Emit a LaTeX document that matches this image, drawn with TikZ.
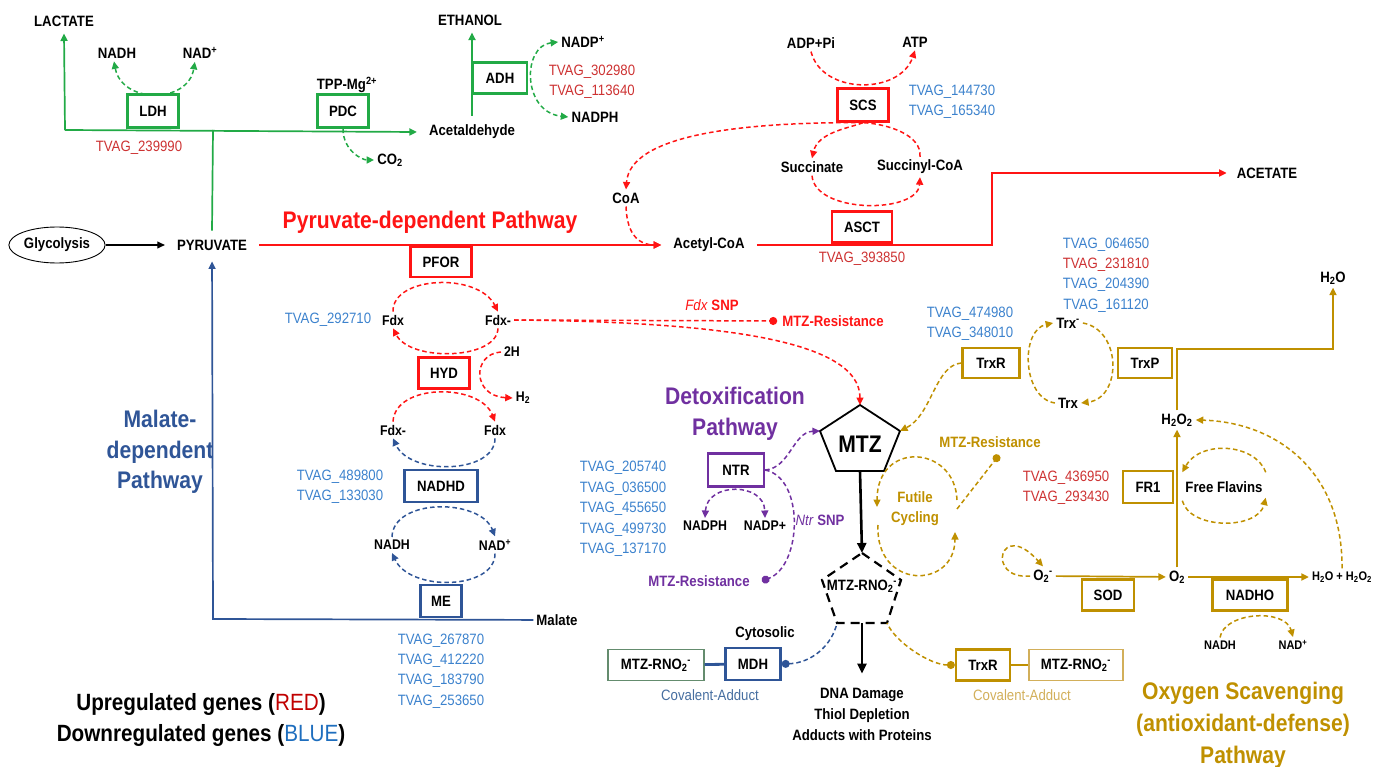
\documentclass[tikz,border=0pt]{standalone}
\usepackage{fontspec}
\setmainfont{Liberation Sans}[FakeStretch=0.88]
\usetikzlibrary{arrows.meta,shapes.geometric}
\definecolor{cgreen}{RGB}{34,170,70}
\definecolor{cred}{RGB}{255,20,20}
\definecolor{tred}{RGB}{205,50,50}
\definecolor{tblue}{RGB}{60,130,205}
\definecolor{cblue}{RGB}{47,85,151}
\definecolor{cpurple}{RGB}{112,48,160}
\definecolor{cgold}{RGB}{191,144,0}
\definecolor{lgold}{RGB}{210,175,90}
\definecolor{covblue}{RGB}{70,110,160}
\definecolor{ggrey}{RGB}{100,140,110}
\definecolor{legred}{RGB}{192,0,0}
\definecolor{legblue}{RGB}{30,110,190}
\tikzset{
  lab/.style={font=\bfseries\fontsize{15}{18}\selectfont, inner sep=3pt},
  labm/.style={font=\bfseries\fontsize{14}{17}\selectfont, inner sep=3pt},
  labs/.style={font=\bfseries\fontsize{12.5}{15}\selectfont, inner sep=3pt},
  tv/.style={font=\fontsize{15}{18}\selectfont, inner sep=2pt},
  tvs/.style={font=\fontsize{15}{20.4}\selectfont, inner sep=2pt, align=center},
  enz/.style={draw, line width=2.3pt, font=\bfseries\fontsize{15}{18}\selectfont, inner sep=2pt, minimum height=31pt},
  genz/.style={enz, draw=cgreen},
  renz/.style={enz, draw=cred},
  benz/.style={enz, draw=cblue},
  penz/.style={enz, draw=cpurple},
  oenz/.style={enz, draw=cgold},
  dsh/.style={line width=1.5pt, dash pattern=on 4.5pt off 3pt},
  gl/.style={cgreen, line width=1.7pt},
  gd/.style={cgreen, dsh},
  rl/.style={cred, line width=1.7pt},
  rd/.style={cred, dsh},
  bl/.style={cblue, line width=1.7pt},
  bd/.style={cblue, dsh},
  pd/.style={cpurple, dsh},
  ol/.style={cgold, line width=1.7pt},
  od/.style={cgold, dsh},
  bk/.style={black, line width=2.6pt, -{Triangle[length=10pt,width=9pt]}},
  enddot/.style={-{Circle[length=8pt]}},
  startdot/.style={{Circle[length=8pt]}-},
  ttl/.style={font=\bfseries\fontsize{24}{31}\selectfont, align=center},
}
\begin{document}
\begin{tikzpicture}[x=1pt,y=-1pt,>={Triangle[length=7.5pt,width=7pt]}]
\useasboundingbox (0,0) rectangle (1387,767);

% ---------------- green (fermentation) ----------------
\node[lab, inner ysep=7pt] (lactate) at (64,21) {LACTATE};
\node[lab, inner ysep=7pt] (ethanol) at (470,20) {ETHANOL};
\node[lab] (nadhA) at (117,53) {NADH};
\node[lab] (nadA) at (200,53) {NAD\textsuperscript{+}};
\node[genz, minimum width=51pt, minimum height=33pt] (ldh) at (153,111) {LDH};
\node[lab] (tpp) at (347,85) {TPP-Mg\textsuperscript{2+}};
\node[genz, minimum width=51pt, minimum height=33pt] (pdc) at (343,111) {PDC};
\node[lab] (co2) at (390,160) {CO\textsubscript{2}};
\node[lab, inner xsep=12pt, inner ysep=9pt] (acald) at (472,132) {Acetaldehyde};
\node[genz, minimum width=54pt] (adh) at (500,78) {ADH};
\node[lab] (nadpA) at (583,42) {NADP\textsuperscript{+}};
\node[lab] (nadphA) at (595,117) {NADPH};
\node[tvs, text=tred] (tvadh) at (592,82) {TVAG\_302980\\TVAG\_113640};
\node[tv, text=tred] (tvldh) at (139,148) {TVAG\_239990};
\node[lab, inner xsep=12pt, inner ysep=9pt] (pyr) at (212,245) {PYRUVATE};

\coordinate (gL) at (65,130);
\coordinate (gJ) at (213,130);
\draw[gl,->] (gL) -- (lactate.south);
\draw[gl,->] (gL) -- (acald.west);
\draw[gl] (pyr.north) -- (gJ);
\draw[gl,->] (acald.north) -- (acald.north |- ethanol.south);
\draw[gd,<->] (nadhA.250) .. controls (122,104) and (188,104) .. (nadA.240);
\draw[gd,->] (pdc.south) .. controls +(0,22) and +(-12,0) .. (co2.west);
\draw[gd,<->] (nadpA.west) .. controls (522,46) and (522,112) .. (nadphA.west);

% ---------------- red (pyruvate-dependent) ----------------
\node[draw, ellipse, line width=0.9pt, minimum width=95pt, minimum height=36pt, inner sep=1pt, font=\bfseries\fontsize{15}{18}\selectfont] (glyc) at (57,245) {Glycolysis};
\draw[line width=1.2pt,->] (glyc) -- (pyr);
\node[lab, inner xsep=12pt] (acoa) at (709,245) {Acetyl-CoA};
\draw[rl,->] (pyr) -- (acoa);
\node[ttl, text=cred] (pyrttl) at (430,222) {Pyruvate-dependent Pathway};
\node[lab, inner xsep=10pt] (acetate) at (1267,173) {ACETATE};
\draw[rl,->] (acoa) -- (992,245) |- (acetate);
\node[renz, minimum width=60pt] (asct) at (862,227) {ASCT};
\node[tv, text=tred] (tvasct) at (862,259) {TVAG\_393850};
\node[renz, minimum width=51pt, minimum height=33pt] (scs) at (863,105) {SCS};
\node[lab] (adp) at (811,43) {ADP+Pi};
\node[lab] (atp) at (915,42) {ATP};
\draw[rd,->] (adp.south) .. controls (822,95) and (900,95) .. (atp.south);
\node[tvs, text=tblue] (tvscs) at (952,102) {TVAG\_144730\\TVAG\_165340};
\node[lab] (succ) at (812,167) {Succinate};
\node[lab] (succoa) at (920,167) {Succinyl-CoA};
\node[lab] (coa) at (626,198) {CoA};
\draw[rd,->] (scs.south) .. controls (850,128) and (818,132) .. (succ.north);
\draw[rd] (succoa.north) .. controls (922,135) and (888,124) .. (scs.south);
\draw[rd,->] (succ.south) .. controls (815,214) and (918,214) .. (succoa.south);
\draw[rd,->] (scs.south) .. controls (740,122) and (630,135) .. (coa.north);
\draw[rd,->] (coa.south) .. controls (627,236) and (640,245) .. (acoa.west);

% PFOR / HYD cycle
\node[renz, minimum width=61pt, minimum height=30pt] (pfor) at (441,262) {PFOR};
\node[renz, minimum width=51pt] (hyd) at (444,373) {HYD};
\node[benz, minimum width=73pt, minimum height=32pt] (nadhd) at (441,486) {NADHD};
\node[benz, minimum width=41pt, minimum height=32pt] (me) at (441,601) {ME};
\node[labm] (fdxA) at (393,320) {Fdx};
\node[labm] (fdxmA) at (498,320) {Fdx-};
\node[labm] (twoh) at (512,352) {2H};
\node[labm] (htwo) at (523,398) {H\textsubscript{2}};
\node[labm] (fdxmB) at (393,430) {Fdx-};
\node[labm] (fdxB) at (495,430) {Fdx};
\node[labm] (nadhB) at (392,545) {NADH};
\node[labm] (nadB) at (495,545) {NAD\textsuperscript{+}};
\draw[rd,->] (fdxA.north) .. controls (392,276) and (478,272) .. (fdxmA.north);
\draw[rd,->] (fdxmA.south) .. controls (497,360) and (410,362) .. (fdxA.south);
\draw[rd,->] (twoh.west) .. controls (472,354) and (472,396) .. (htwo.west);
\draw[rd,->] (fdxmB.north) .. controls (395,383) and (480,383) .. (fdxB.north);
\draw[bd,->] (fdxB.south) .. controls (495,474) and (410,476) .. (fdxmB.south);
\draw[bd,->] (nadhB.north) .. controls (393,498) and (480,498) .. (nadB.north);
\draw[bd,->] (nadB.south) .. controls (495,590) and (410,592) .. (nadhB.south);
\node[tv, text=tblue] (tvfdx) at (328,320) {TVAG\_292710};
\node[tvs, text=tblue] (tvnadhd) at (340,487) {TVAG\_489800\\TVAG\_133030};
\node[tvs, text=tblue] (tvme) at (441,671) {TVAG\_267870\\TVAG\_412220\\TVAG\_183790\\TVAG\_253650};

% malate pathway
\node[lab] (malate) at (557,620) {Malate};
\draw[bl,->,shorten >=2pt] (malate) -- (213,619) -- (pyr);
\node[ttl, text=cblue, font=\bfseries\fontsize{24}{30.5}\selectfont] (malttl) at (160,452) {Malate-\\dependent\\Pathway};

% Fdx SNP / resistance
\node[lab, text=cred] (resA) at (833,321) {MTZ-Resistance};
\draw[rd,enddot,shorten >=2pt] (fdxmA.east) -- (resA.west);
\node[font=\fontsize{15}{18}\selectfont, text=cred] (fdxsnp) at (712,305) {\textit{Fdx} \textbf{SNP}};

% ---------------- MTZ ----------------
\coordinate (mtzT) at (860,405);
\coordinate (mtzR) at (900,431);
\coordinate (mtzBR) at (884,471);
\coordinate (mtzBL) at (836,471);
\coordinate (mtzL) at (820,431);
\coordinate (mtzB) at (860,471);
\draw[line width=1.8pt, line join=miter] (mtzT) -- (mtzR) -- (mtzBR) -- (mtzBL) -- (mtzL) -- cycle;
\node[font=\bfseries\fontsize{24}{28}\selectfont] (mtz) at (860,444) {MTZ};
\draw[rd,->] (fdxmA.east) .. controls (720,322) and (860,340) .. (mtzT);

\coordinate (rnoT) at (862,553);
\coordinate (rnoR) at (901,580);
\coordinate (rnoBR) at (887,623);
\coordinate (rnoBL) at (837,623);
\coordinate (rnoL) at (822,580);
\coordinate (rnoB) at (862,623);
\draw[line width=2.2pt, dash pattern=on 9pt off 6pt] (rnoT) -- (rnoR) -- (rnoBR) -- (rnoBL) -- (rnoL) -- cycle;
\node[lab] (rno) at (862,586) {MTZ-RNO\textsubscript{2}\textsuperscript{-}};
\draw[bk] (mtzB) -- (rnoT);
\node[lab, align=center, font=\bfseries\fontsize{15}{21}\selectfont] (dna) at (862,714) {DNA Damage\\Thiol Depletion\\Adducts with Proteins};
\draw[bk, shorten >=11pt] (rnoB) -- (dna.north);

% ---------------- detoxification ----------------
\node[ttl, text=cpurple] (detttl) at (735,414) {Detoxification\\Pathway};
\node[penz, minimum width=56pt, minimum height=33pt] (ntr) at (736,470) {NTR};
\node[labm] (nadphB) at (705,526) {NADPH};
\node[labm] (nadppB) at (765,526) {NADP+};
\draw[pd,<->] (nadphB.north) .. controls (707,482) and (764,482) .. (nadppB.north);
\draw[pd,->] (ntr.east) .. controls (790,468) and (793,432) .. (mtzL);
\node[lab, text=cpurple] (resB) at (699,581) {MTZ-Resistance};
\draw[pd,enddot] (ntr.east) .. controls (805,478) and (802,566) .. ([xshift=9pt]resB.east);
\node[font=\fontsize{15}{18}\selectfont, text=cpurple] (ntrsnp) at (820,520) {\textit{Ntr} \textbf{SNP}};
\node[tvs, text=tblue] (tvntr) at (623,509) {TVAG\_205740\\TVAG\_036500\\TVAG\_455650\\TVAG\_499730\\TVAG\_137170};

\node[lab] (cyto) at (765,634) {Cytosolic};
\node[benz, minimum width=55pt, minimum height=32pt] (mdh) at (753,664) {MDH};
\node[draw=ggrey, line width=1.1pt, minimum width=96pt, minimum height=31pt, inner sep=2pt, font=\bfseries\fontsize{15}{18}\selectfont] (addA) at (656,665) {MTZ-RNO\textsubscript{2}\textsuperscript{-}};
\draw[cblue, line width=2.8pt] (addA) -- (mdh);
\draw[bd,startdot] (mdh.east) .. controls (812,663) and (832,645) .. (rnoBL);
\node[tv, text=covblue] (covA) at (710,695) {Covalent-Adduct};

% ---------------- oxygen scavenging ----------------
\node[oenz, minimum width=57pt, minimum height=30pt] (trxr) at (991,363) {TrxR};
\node[oenz, minimum width=54pt, minimum height=30pt] (trxp) at (1145,363) {TrxP};
\node[lab] (trxm) at (1068,323) {Trx\textsuperscript{-}};
\node[lab] (trx) at (1068,403) {Trx};
\node[tvs, text=tblue] (tvtrxr) at (970,324) {TVAG\_474980\\TVAG\_348010};
\node[tvs] (tvtrxp) at (1106,275) {\textcolor{tblue}{TVAG\_064650}\\\textcolor{tred}{TVAG\_231810}\\\textcolor{tblue}{TVAG\_204390}\\\textcolor{tblue}{TVAG\_161120}};
\draw[od,->] (trxr.west) .. controls (935,365) and (932,415) .. (mtzR);
\draw[od,->] (trx.west) .. controls (1022,398) and (1020,330) .. (trxm.west);
\draw[od,->] (trxm.east) .. controls (1122,330) and (1122,398) .. (trx.east);

\node[lab] (h2o) at (1333,278) {H\textsubscript{2}O};
\node[lab] (h2o2) at (1177,420) {H\textsubscript{2}O\textsubscript{2}};
\draw[ol,->] (h2o2.north) -- (1177,349) -| (h2o.south);
\node[oenz, minimum width=50pt, minimum height=32pt] (fr1) at (1148,487) {FR1};
\node[tvs, text=tred] (tvfr1) at (1066,488) {TVAG\_436950\\TVAG\_293430};
\node[lab] (flav) at (1224,487) {Free Flavins};
\draw[od,->] ([yshift=6pt]flav.north east) .. controls (1255,443) and (1200,440) .. ([yshift=6pt]flav.north west);
\draw[od,->] ([yshift=-5pt]flav.south west) .. controls (1190,530) and (1258,530) .. ([yshift=-2pt]flav.south east);

\node[lab] (o2m) at (1043,576) {O\textsubscript{2}\textsuperscript{-}};
\node[lab] (o2) at (1177,577) {O\textsubscript{2}};
\node[labs] (hh) at (1342,577) {H\textsubscript{2}O + H\textsubscript{2}O\textsubscript{2}};
\draw[ol,->] (o2m) -- (o2);
\draw[ol,->] (o2) -- (hh);
\draw[ol,->] (o2.north) -- (h2o2.south);
\draw[od,->] (hh.north) .. controls (1343,470) and (1275,422) .. (h2o2.east);
\node[oenz, minimum width=52pt, minimum height=31pt] (sod) at (1108,595) {SOD};
\node[oenz, minimum width=75pt, minimum height=31pt] (nadho) at (1250,595) {NADHO};
\node[labs] (nadhC) at (1220,645) {NADH};
\node[labs] (nadC) at (1293,645) {NAD\textsuperscript{+}};
\draw[od,->] (nadhC.north) .. controls (1224,612) and (1285,608) .. (nadC.north);
\draw[od,->] (o2m.west) .. controls (985,580) and (1000,518) .. (o2m.north);

% futile cycling
\node[font=\bfseries\fontsize{15}{20}\selectfont, text=cgold, align=center] (fut) at (915,509) {Futile\\Cycling};
\coordinate (futA) at (957,500);
\coordinate (futB) at (877,507);
\coordinate (futC) at (878,525);
\coordinate (futD) at (955,532);
\coordinate (futR) at (957,509);
\coordinate (resCdot) at (999,455);
\draw[od,->] (futA) .. controls (955,445) and (877,440) .. (futB);
\draw[od,->] (futC) .. controls (875,590) and (955,590) .. (futD);
\node[lab, text=cgold] (resC) at (990,442) {MTZ-Resistance};
\draw[od,enddot] (futR) -- (resCdot);

\node[oenz, minimum width=54pt, minimum height=31pt] (trxrB) at (983,665) {TrxR};
\node[draw=lgold, line width=1.1pt, minimum width=94pt, minimum height=31pt, inner sep=2pt, font=\bfseries\fontsize{15}{18}\selectfont] (addB) at (1076,665) {MTZ-RNO\textsubscript{2}\textsuperscript{-}};
\draw[cgold, line width=2.8pt] (trxrB) -- (addB);
\draw[od,startdot] (trxrB.west) .. controls (930,665) and (895,642) .. (rnoBR);
\node[tv, text=lgold] (covB) at (1022,695) {Covalent-Adduct};

\node[ttl, text=cgold, font=\bfseries\fontsize{24}{32}\selectfont] (oxttl) at (1243,725) {Oxygen Scavenging\\(antioxidant-defense)\\Pathway};

% legend
\node[font=\bfseries\fontsize{23.5}{31}\selectfont, align=center] (legend) at (201,720) {Upregulated genes (\textcolor{legred}{\mdseries RED})\\Downregulated genes (\textcolor{legblue}{\mdseries BLUE})};
\end{tikzpicture}
\end{document}
